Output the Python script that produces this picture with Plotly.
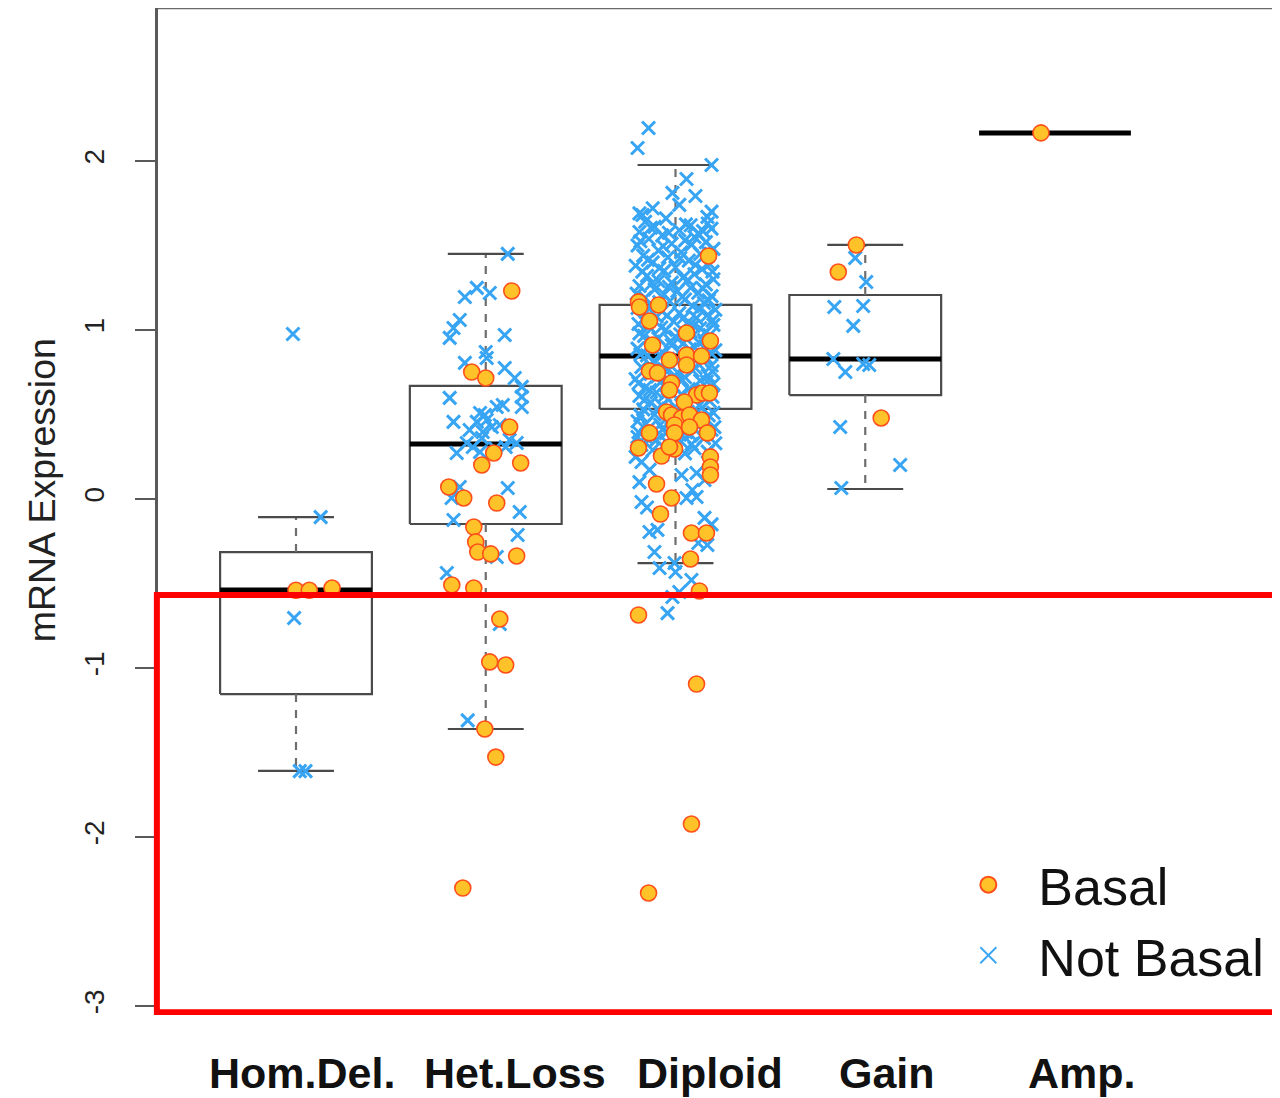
import plotly.graph_objects as go

# ---------------- data ----------------
categories = ["Hom.Del.", "Het.Loss", "Diploid", "Gain", "Amp."]
positions = [1, 2, 3, 4, 5]

# box statistics (R boxplot style)
q1 = [-1.154, -0.148, 0.533, 0.615, 2.166]
median = [-0.538, 0.325, 0.846, 0.828, 2.166]
q3 = [-0.314, 0.669, 1.148, 1.207, 2.166]
whisker_lo = [-1.609, -1.361, -0.379, 0.059, 2.166]
whisker_hi = [-0.107, 1.450, 1.976, 1.503, 2.166]

# jittered points: (offset, value)
homdel_basal = [(0.0, -0.54), (0.07, -0.54), (0.19, -0.527)]
homdel_not = [(-0.016, 0.976), (0.13, -0.107), (-0.01, -0.704), (0.02, -1.61), (0.05, -1.61)]

hetloss_basal = [(0.137, 1.231), (-0.074, 0.751), (0.0, 0.716), (0.126, 0.426), (0.042, 0.272),
                 (-0.021, 0.201), (0.184, 0.213), (-0.195, 0.071), (-0.116, 0.006), (0.058, -0.024),
                 (-0.063, -0.166), (-0.053, -0.254), (-0.042, -0.314), (0.026, -0.325), (0.163, -0.337),
                 (-0.179, -0.509), (-0.063, -0.527), (0.074, -0.710), (0.021, -0.964), (0.105, -0.982),
                 (-0.005, -1.361), (0.053, -1.527), (-0.121, -2.302)]
hetloss_not = [(0.116, 1.45), (-0.047, 1.249), (-0.11, 1.195), (0.021, 1.219), (-0.137, 1.059),
               (-0.17, 1.012), (-0.19, 0.953), (0.10, 0.970), (0.005, 0.834), (-0.11, 0.805),
               (0.10, 0.775), (0.153, 0.716), (0.19, 0.663), (0.19, 0.604), (0.19, 0.544),
               (-0.19, 0.598), (-0.03, 0.509), (0.058, 0.544), (0.09, 0.556), (0.005, 0.467),
               (-0.047, 0.456), (0.032, 0.426), (-0.17, 0.456), (-0.016, 0.396), (-0.10, 0.331),
               (-0.153, 0.272), (-0.068, 0.308), (-0.03, 0.278), (0.163, 0.331), (0.126, 0.349),
               (-0.137, 0.071), (0.116, 0.065), (-0.18, 0.006), (0.179, -0.077), (-0.17, -0.124),
               (0.168, -0.213), (0.058, -0.343), (-0.205, -0.438), (-0.095, -1.31), (0.074, -0.74),
               (-0.005, 0.497), (0.074, 0.438), (-0.085, 0.408), (0.105, 0.308), (0.0, 0.87),
               (-0.02, 0.36), (0.05, 0.30)]

diploid_basal = [(0.174, 1.438), (-0.195, 1.166), (-0.19, 1.136), (-0.089, 1.148), (-0.137, 1.053),
                 (0.058, 0.982), (0.184, 0.935), (-0.121, 0.911), (-0.032, 0.822), (0.058, 0.852),
                 (0.137, 0.846), (0.058, 0.793), (-0.137, 0.757), (-0.095, 0.746), (-0.021, 0.686),
                 (-0.032, 0.645), (0.111, 0.615), (0.142, 0.627), (0.179, 0.627), (0.047, 0.574),
                 (-0.047, 0.515), (-0.021, 0.497), (0.032, 0.479), (0.074, 0.497), (0.137, 0.467),
                 (-0.005, 0.438), (0.074, 0.426), (-0.137, 0.391), (-0.005, 0.391), (0.168, 0.391),
                 (-0.195, 0.302), (-0.074, 0.254), (-0.005, 0.296), (-0.032, 0.308), (0.184, 0.249),
                 (0.184, 0.189), (0.184, 0.142), (-0.10, 0.089), (-0.021, 0.006), (-0.079, -0.089),
                 (0.084, -0.201), (0.163, -0.201), (0.079, -0.355), (0.126, -0.544), (-0.195, -0.686),
                 (0.111, -1.095), (0.084, -1.923), (-0.142, -2.331)]
diploid_not = [(-0.142, 2.195), (-0.2, 2.077), (0.19, 1.976), (0.058, 1.893), (-0.016, 1.811),
               (0.105, 1.793), (-0.174, 1.680), (0.168, 1.669),
               (-0.12, 1.72), (0.02, 1.74), (0.19, 1.70), (-0.19, 1.69),
               (-0.16, 1.64), (-0.05, 1.66), (0.08, 1.62), (0.17, 1.63), (-0.11, 1.61),
               (0.02, 1.59), (-0.19, 1.58), (0.12, 1.57), (0.19, 1.60), (-0.07, 1.56),
               (-0.14, 1.54), (0.05, 1.53), (0.16, 1.52), (-0.02, 1.51), (0.10, 1.55), (-0.20, 1.50),
               (0.20, 1.48), (-0.09, 1.47), (0.03, 1.46), (0.13, 1.45), (-0.17, 1.44), (-0.04, 1.43),
               (0.07, 1.41), (0.18, 1.39), (-0.12, 1.40), (-0.21, 1.38), (0.00, 1.37), (0.14, 1.36), (-0.06, 1.35),
               (0.10, 1.33), (-0.15, 1.32), (0.04, 1.31), (0.20, 1.30), (-0.09, 1.29), (-0.02, 1.28), (0.16, 1.27),
               (-0.19, 1.26), (0.08, 1.25), (-0.11, 1.24), (0.01, 1.23), (0.12, 1.22), (-0.06, 1.21), (0.19, 1.20), (-0.16, 1.19),
               (0.05, 1.18), (-0.03, 1.17), (0.15, 1.16), (-0.13, 1.15), (0.09, 1.14), (-0.20, 1.13), (0.21, 1.12), (-0.07, 1.11),
               (0.02, 1.10), (0.17, 1.09), (-0.10, 1.08), (0.11, 1.07), (-0.17, 1.06), (-0.01, 1.05), (0.06, 1.04), (0.20, 1.03),
               (-0.14, 1.02), (0.13, 1.01), (-0.05, 1.00), (0.08, 0.99), (-0.19, 0.98), (0.18, 0.97), (0.00, 0.96), (-0.09, 0.95),
               (0.15, 0.94), (-0.12, 0.93), (0.04, 0.92), (-0.02, 0.91), (0.10, 0.90), (-0.20, 0.89), (0.21, 0.88), (-0.07, 0.87),
               (0.07, 0.86), (-0.15, 0.85), (0.16, 0.84), (-0.04, 0.83), (0.02, 0.82), (-0.11, 0.81), (0.12, 0.80), (0.19, 0.79),
               (-0.18, 0.78), (-0.06, 0.77), (0.09, 0.76), (0.01, 0.75), (-0.13, 0.74), (0.17, 0.73), (0.05, 0.72), (-0.21, 0.71),
               (0.13, 0.70), (-0.08, 0.69), (0.20, 0.68), (-0.01, 0.67), (-0.16, 0.66), (0.07, 0.65), (0.15, 0.64), (-0.10, 0.63),
               (0.03, 0.62), (-0.19, 0.61), (0.11, 0.60), (-0.04, 0.59), (0.18, 0.58), (-0.13, 0.57), (0.06, 0.56), (-0.07, 0.55),
               (0.14, 0.54), (-0.17, 0.53), (0.00, 0.52), (0.20, 0.51), (-0.11, 0.50), (0.09, 0.49), (-0.02, 0.48), (0.16, 0.47),
               (-0.20, 0.46), (0.04, 0.45), (-0.08, 0.44), (0.12, 0.43), (-0.14, 0.42), (0.19, 0.41), (0.01, 0.40), (-0.05, 0.39),
               (0.08, 0.38), (-0.16, 0.37), (0.15, 0.36), (-0.10, 0.35), (0.03, 0.34), (0.21, 0.33), (-0.18, 0.32), (-0.02, 0.31),
               (0.10, 0.30), (-0.12, 0.29), (0.17, 0.28), (0.05, 0.27), (-0.07, 0.26),
               (-0.13, 1.605), (0.055, 1.625), (0.145, 1.585), (-0.035, 1.575), (0.085, 1.505), (-0.185, 1.525),
               (-0.065, 1.495), (0.175, 1.455), (0.025, 1.425), (-0.145, 1.415), (0.105, 1.385), (-0.085, 1.365),
               (0.195, 1.345), (-0.175, 1.345), (0.065, 1.295), (-0.125, 1.275), (0.145, 1.245), (-0.035, 1.255),
               (-0.205, 1.215), (0.035, 1.195), (0.175, 1.175), (-0.085, 1.165), (0.125, 1.125), (-0.155, 1.105),
               (0.045, 1.075), (-0.045, 1.085), (0.195, 1.055), (-0.195, 1.035), (0.095, 1.025), (-0.075, 1.015),
               (0.155, 0.985), (-0.165, 0.965), (0.025, 0.975), (-0.025, 0.935), (0.125, 0.925), (-0.135, 0.895),
               (0.075, 0.885), (0.185, 0.865), (-0.185, 0.855), (-0.075, 0.845), (0.045, 0.835), (0.145, 0.815),
               (-0.135, 0.795), (0.105, 0.775), (-0.035, 0.765), (0.195, 0.755), (-0.095, 0.725), (0.035, 0.705),
               (-0.195, 0.685), (0.165, 0.695), (-0.135, 0.645), (0.085, 0.635), (-0.055, 0.615), (0.195, 0.605),
               (-0.165, 0.585), (0.025, 0.575), (0.125, 0.555), (-0.095, 0.535), (0.065, 0.515), (-0.185, 0.495),
               (0.175, 0.495), (-0.035, 0.455), (0.105, 0.455), (-0.155, 0.445), (0.205, 0.425), (-0.065, 0.415),
               (0.055, 0.395), (-0.195, 0.395), (0.135, 0.375), (-0.125, 0.365), (-0.045, 0.335), (0.085, 0.325),
               (-0.20, 0.367), (-0.21, 0.249), (-0.179, 0.219), (-0.137, 0.172), (0.032, 0.142), (0.111, 0.154),
               (0.153, 0.112), (0.089, 0.053), (0.058, 0.006), (0.111, 0.012), (-0.179, -0.018), (0.153, -0.112),
               (-0.137, -0.195), (-0.095, -0.183), (0.168, -0.272), (-0.111, -0.314), (-0.084, -0.408),
               (-0.005, -0.379), (0.0, -0.432), (0.084, -0.479), (-0.016, -0.580), (-0.042, -0.675),
               (0.12, -0.26), (0.19, -0.15), (-0.19, 0.10), (-0.15, -0.05), (0.02, -0.55)]

gain_basal = [(-0.047, 1.503), (-0.142, 1.343), (0.084, 0.479)]
gain_not = [(-0.053, 1.426), (0.005, 1.284), (-0.163, 1.136), (-0.011, 1.142), (-0.063, 1.024),
            (-0.168, 0.828), (-0.105, 0.751), (-0.011, 0.799), (0.021, 0.793), (-0.132, 0.426),
            (0.184, 0.201), (-0.126, 0.065)]

amp_basal = [(-0.074, 2.166)]
amp_not = []

basal_groups = [homdel_basal, hetloss_basal, diploid_basal, gain_basal, amp_basal]
not_groups = [homdel_not, hetloss_not, diploid_not, gain_not, amp_not]

y_tickvals = [-3, -2, -1, 0, 1, 2]
y_ticktext = ["-3", "-2", "-1", "0", "1", "2"]
label_shift = [6, 29, 34, 22, 27]

# ---------------- figure ----------------
FONT = "Liberation Sans, Arial, Helvetica, sans-serif"
BOX_HW = 0.40
CAP_HW = 0.20
BOX_COL = "#4a4a4a"
BLUE = "#37A5F3"
ORANGE_FILL = "#FFC228"
ORANGE_EDGE = "#FF4F1A"

fig = go.Figure()

# boxes (white fill)
for p, a, b in zip(positions, q1, q3):
    if a == b:
        continue
    fig.add_trace(go.Scatter(
        x=[p - BOX_HW, p + BOX_HW, p + BOX_HW, p - BOX_HW, p - BOX_HW],
        y=[a, a, b, b, a], mode="lines", fill="toself", fillcolor="white",
        line=dict(color=BOX_COL, width=2.2), showlegend=False, hoverinfo="skip"))

# whiskers (dashed)
wx, wy = [], []
for p, a, b, lo, hi in zip(positions, q1, q3, whisker_lo, whisker_hi):
    if lo == hi:
        continue
    wx += [p, p, None, p, p, None]
    wy += [b, hi, None, a, lo, None]
fig.add_trace(go.Scatter(x=wx, y=wy, mode="lines",
                         line=dict(color="#6e6e6e", width=2.2, dash="8px,8px"),
                         showlegend=False, hoverinfo="skip"))

# caps
cx, cy = [], []
for p, lo, hi in zip(positions, whisker_lo, whisker_hi):
    if lo == hi:
        continue
    cx += [p - CAP_HW, p + CAP_HW, None, p - CAP_HW, p + CAP_HW, None]
    cy += [hi, hi, None, lo, lo, None]
fig.add_trace(go.Scatter(x=cx, y=cy, mode="lines", line=dict(color=BOX_COL, width=2.2),
                         showlegend=False, hoverinfo="skip"))

# medians
mx, my = [], []
for p, m in zip(positions, median):
    mx += [p - BOX_HW, p + BOX_HW, None]
    my += [m, m, None]
fig.add_trace(go.Scatter(x=mx, y=my, mode="lines", line=dict(color="black", width=5),
                         showlegend=False, hoverinfo="skip"))

# points
nx, ny = [], []
for p, grp in zip(positions, not_groups):
    for dx, v in grp:
        nx.append(p + dx)
        ny.append(v)
bx, by = [], []
for p, grp in zip(positions, basal_groups):
    for dx, v in grp:
        bx.append(p + dx)
        by.append(v)

fig.add_trace(go.Scatter(
    x=nx, y=ny, mode="markers", name="Not Basal", showlegend=False,
    marker=dict(symbol="x-thin", size=13, color=BLUE, line=dict(color=BLUE, width=3))))
fig.add_trace(go.Scatter(
    x=bx, y=by, mode="markers", name="Basal", showlegend=False,
    marker=dict(symbol="circle", size=16, color=ORANGE_FILL,
                line=dict(color=ORANGE_EDGE, width=1.6))))

# legend entries (R-style legend keys: larger symbols)
fig.add_trace(go.Scatter(
    x=[None], y=[None], mode="markers", name="Basal", legendrank=1,
    marker=dict(symbol="circle", size=16, color=ORANGE_FILL,
                line=dict(color=ORANGE_EDGE, width=2))))
fig.add_trace(go.Scatter(
    x=[None], y=[None], mode="markers", name="Not Basal", legendrank=2,
    marker=dict(symbol="x-thin", size=16, color=BLUE, line=dict(color=BLUE, width=1.8))))

# category labels
for p, lab, sh in zip(positions, categories, label_shift):
    fig.add_annotation(x=p, y=0, xref="x", yref="paper", text="<b>" + lab + "</b>",
                       showarrow=False, xanchor="center", yanchor="middle",
                       xshift=sh, yshift=-58, font=dict(family=FONT, size=43, color="#111"))

# y-axis title
fig.add_annotation(x=0, y=0.521, xref="paper", yref="paper", text="mRNA Expression",
                   textangle=-90, showarrow=False, xanchor="center", yanchor="middle",
                   xshift=-116, font=dict(family=FONT, size=37.5, color="#222"))

# plot frame top line
fig.add_shape(type="line", xref="paper", yref="paper", x0=0, x1=1.01, y0=1, y1=1,
              line=dict(color="#6a6a6a", width=2.5))

# red highlight rectangle
fig.add_shape(type="rect", xref="paper", yref="y", x0=-0.001, x1=1.02, y0=-3.036, y1=-0.568,
              line=dict(color="#FF0000", width=6), fillcolor="rgba(0,0,0,0)")

fig.update_layout(
    width=1272, height=1090,
    margin=dict(l=150, r=0, t=0, b=83),
    paper_bgcolor="white", plot_bgcolor="white",
    showlegend=True,
    legend=dict(x=0.6955, y=0.094, xanchor="left", yanchor="middle",
                font=dict(family=FONT, size=52, color="#111"),
                bgcolor="rgba(0,0,0,0)", itemwidth=90, traceorder="normal"),
    xaxis=dict(range=[0.2727, 6.1858], showgrid=False, zeroline=False, showline=False,
               showticklabels=False, ticks=""),
    yaxis=dict(range=[-3.053, 2.905], showgrid=False, zeroline=False, showline=True,
               linecolor="#5a5a5a", linewidth=2.5, ticks="outside", ticklen=20, tickwidth=2,
               tickcolor="#5a5a5a", tickvals=y_tickvals, ticktext=y_ticktext, tickangle=-90,
               ticklabelstandoff=20,
               tickfont=dict(family=FONT, size=28, color="#222")),
)

fig.write_html("out.html")
